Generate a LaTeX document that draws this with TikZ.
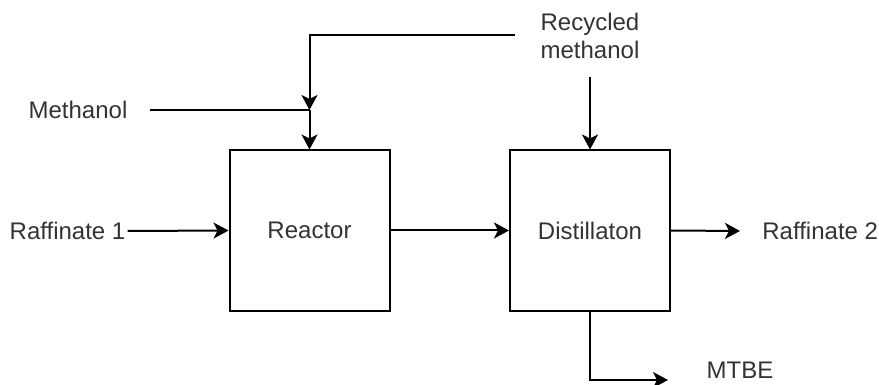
\documentclass[tikz,border=0pt]{standalone}
\usepackage{fontspec}
\setmainfont{Liberation Sans}
\usetikzlibrary{arrows.meta}
\tikzset{
  unitbox/.style={draw,line width=1pt,minimum width=80pt,minimum height=80pt,inner sep=0pt,text=black!80},
  flow/.style={line width=1pt,-{Stealth[length=7.5pt,width=8pt,inset=2pt]}},
  pipe/.style={line width=1pt},
  lbl/.style={text=black!80,inner sep=1pt,align=center}
}
\begin{document}
\begin{tikzpicture}[x=0.5pt,y=-0.5pt,font=\fontsize{12}{14}\selectfont]
		\useasboundingbox (0,0) rectangle (879,385);
		\node[unitbox] (reactor) at (309.5,230.5) {Reactor};
		\node[unitbox] (distill) at (590,230.5) {Distillaton};
		\node[lbl] (raf1) at (67.5,231) {Raffinate 1};
		\node[lbl] (meth) at (78,110) {Methanol};
		\node[lbl] (recyc) at (590,36) {Recycled\\methanol};
		\node[lbl,anchor=west] (raf2) at (760,231) {Raffinate 2};
		\node[lbl] (mtbe) at (740,370) {MTBE};
		\coordinate (M_0) at (150,110);
		\coordinate (J) at (309.5,110);
		\coordinate (R_0) at (515,35);
		\coordinate (R_1) at (309.5,35);
		\coordinate (D_0) at (590,77);
		\coordinate (D_1) at (740,231);
		\coordinate (B_0) at (590,380);
		\coordinate (B_1) at (668,380);
		\draw[pipe] (M_0)--(J);
		\draw[flow] (R_0)--(R_1)--(J);
		\draw[flow] (J)--(reactor.north);
		\draw[flow] (raf1.east)--(reactor.west);
		\draw[flow] (reactor.east)--(distill.west);
		\draw[flow] (D_0)--(distill.north);
		\draw[flow] (distill.east)--(D_1);
		\draw[flow] (distill.south)--(B_0)--(B_1);
\end{tikzpicture}
\end{document}
